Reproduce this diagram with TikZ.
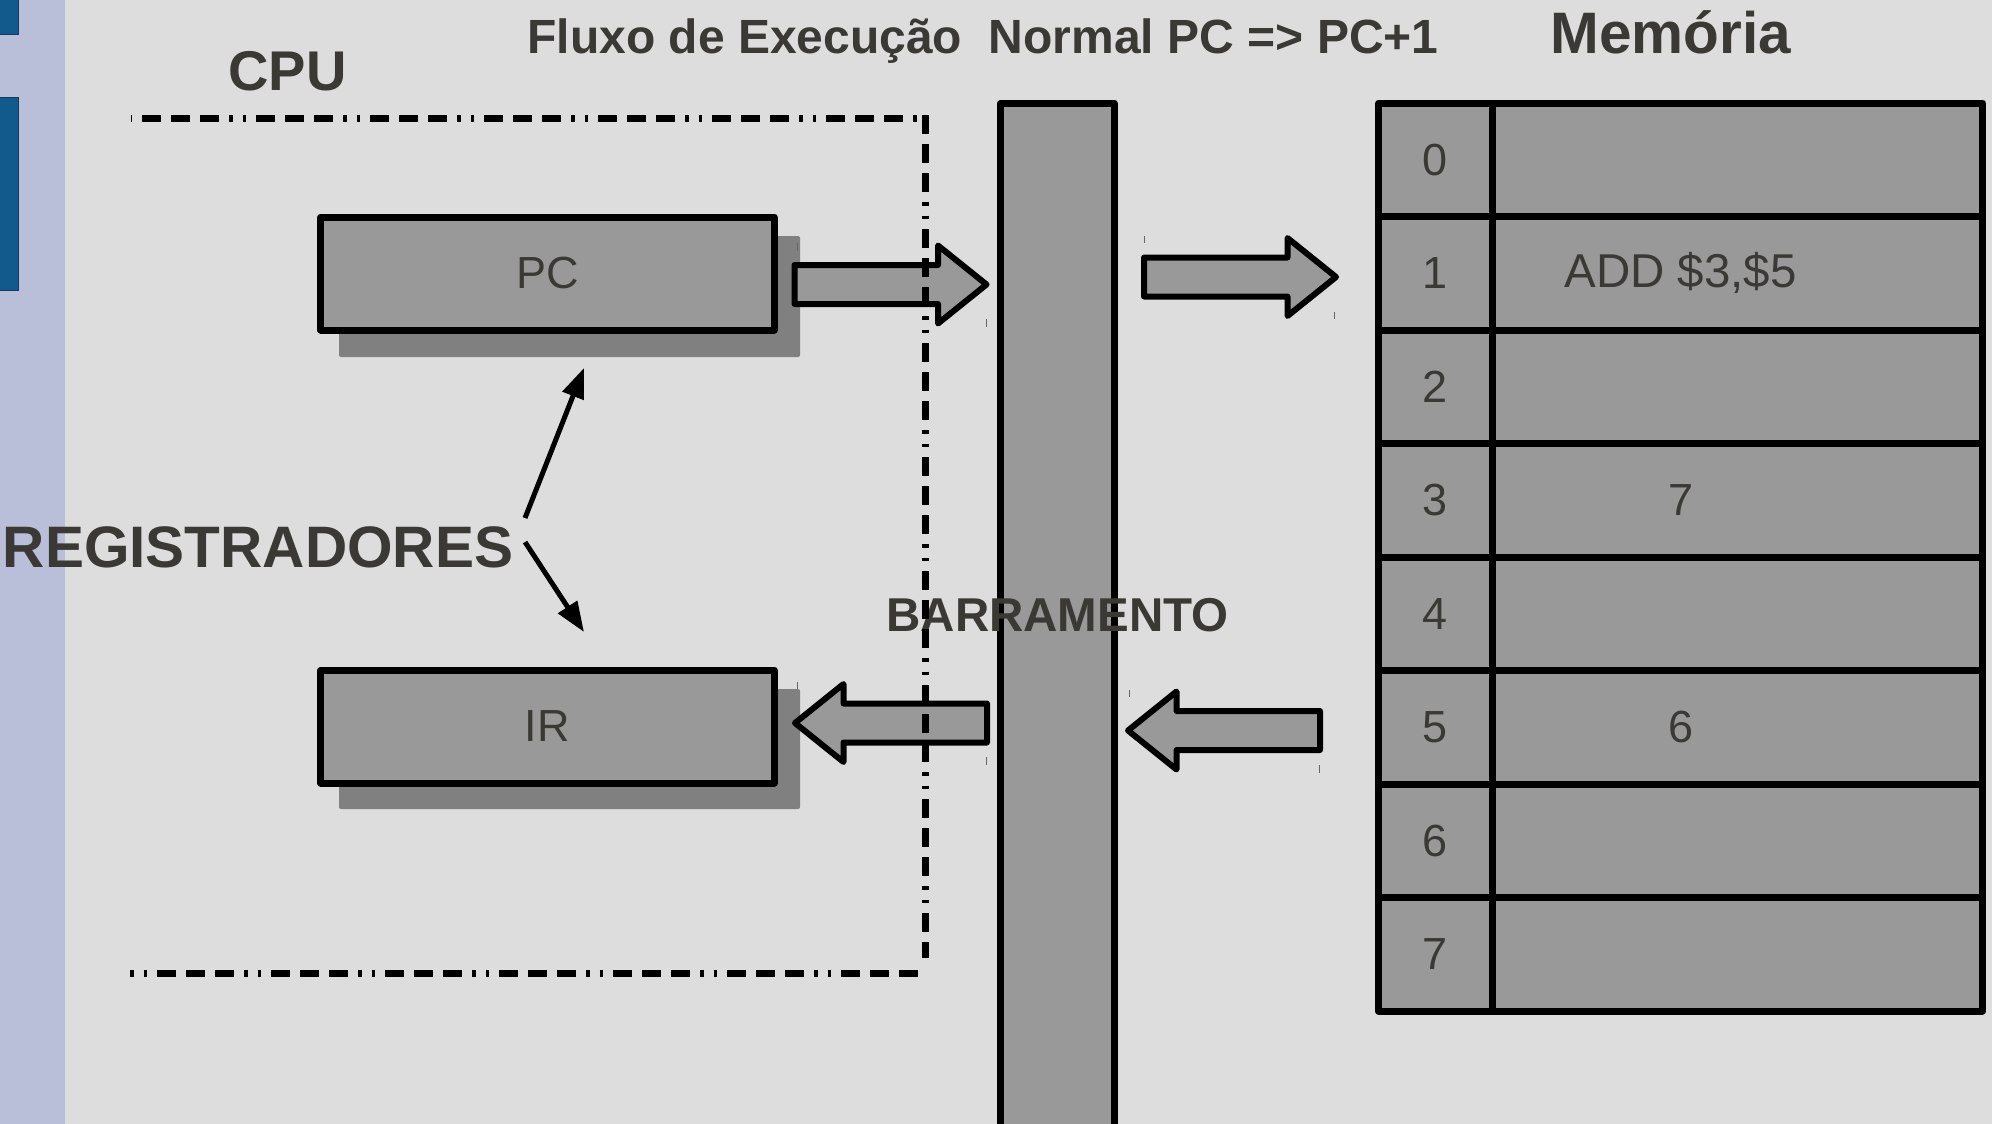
\documentclass[tikz,border=0pt]{standalone}
\usepackage{fontspec}
\setmainfont{Liberation Sans}
\usetikzlibrary{arrows.meta}

\definecolor{bgray}{RGB}{221,221,221}
\definecolor{boxgray}{RGB}{153,153,153}
\definecolor{shadegray}{RGB}{128,128,128}
\definecolor{ink}{RGB}{58,57,53}
\definecolor{sidebar}{RGB}{185,190,217}
\definecolor{slideblue}{RGB}{19,90,140}

\tikzset{
  heading/.style={text=ink, font=\bfseries\fontsize{58.5}{62}\selectfont, inner sep=0pt, anchor=base},
  plain/.style={text=ink, font=\fontsize{45}{50}\selectfont, inner sep=0pt},
  regbox/.style={draw=black, line width=7pt, fill=boxgray, line join=round,
    minimum width=453.4pt, minimum height=113pt, inner sep=0pt, text=ink,
    font=\fontsize{45}{50}\selectfont},
  addrcell/.style={draw=black, line width=7pt, fill=boxgray, line join=round,
    minimum width=113.4pt, minimum height=113.5pt, inner sep=0pt, text=ink,
    font=\fontsize{45}{50}\selectfont},
  valcell/.style={addrcell, minimum width=490.6pt},
  fatline/.style={draw=black, fill=boxgray, line width=6pt, line join=round},
  fatarrow/.pic={\draw[fatline] (0,-19.5) -- (143.5,-19.5) -- (143.5,-39) -- (192,0)
      -- (143.5,39) -- (143.5,19.5) -- (0,19.5) -- cycle;},
  tickmark/.style={draw=black!60, line width=1pt},
  thinarrow/.style={line width=5pt, -{Triangle[length=30pt,width=22pt]}},
  cpudash/.style={line width=7pt, dash pattern=on 19pt off 10pt on 19pt off 10pt
      on 19pt off 10pt on 3.5pt off 10pt on 3.5pt off 10pt}
}

\begin{document}
\begin{tikzpicture}[x=1pt,y=-1pt]
  \useasboundingbox (0,0) rectangle (1992,1124);
  \clip (0,0) rectangle (1992,1124);

  % slide background and left band
  \fill[bgray] (0,0) rectangle (1992,1124);
  \fill[sidebar] (0,0) rectangle (65,1124);
  \filldraw[fill=slideblue, draw=slideblue!70!black, line width=1pt] (-2,-2) rectangle (18,35);
  \filldraw[fill=slideblue, draw=slideblue!70!black, line width=1pt] (-2,97) rectangle (18,290);

  % headings
  \node[heading, font=\bfseries\fontsize{56}{60}\selectfont] (cpu) at (287.5,90) {CPU};
  \node[heading, font=\bfseries\fontsize{48}{52}\selectfont] (title) at (983,53.3)
    {Fluxo de Execução\ \ Normal PC => PC+1};
  \node[heading] (mem) at (1671,53.3) {Memória};

  % registers with their shadows
  \fill[shadegray, rounded corners=2pt] (339,236) rectangle (800,357);
  \fill[shadegray, rounded corners=2pt] (339,689) rectangle (800,809);
  \node[regbox] (pc) at (547.3,273.5) {PC};
  \node[regbox] (ir) at (547.3,726.5) {IR};

  % register label and its pointers
  \node[heading] (reg) at (258,567) {REGISTRADORES};
  \coordinate (up1) at (525,518);
  \coordinate (up2) at (584,368);
  \coordinate (dn1) at (525,542);
  \coordinate (dn2) at (584,632);
  \draw[thinarrow] (up1) -- (up2);
  \draw[thinarrow] (dn1) -- (dn2);

  % bus
  \node[draw=black, line width=7pt, fill=boxgray, line join=round, minimum width=113.5pt,
    minimum height=1040pt, inner sep=0pt, anchor=north] (bus) at (1057.25,99.5) {};

  % memory table
  \foreach \k in {0,...,7} {
    \node[addrcell] (a\k) at (1435.3,{159.75+113.5*\k}) {\k};
    \node[valcell] (v\k) at (1737.3,{159.75+113.5*\k}) {};
  }
  \node[plain, font=\fontsize{47.5}{52}\selectfont] (val1) at (1680.5,273.25) {ADD \$3,\$5};
  \node[plain] (val3) at (1681,500.25) {7};
  \node[plain] (val5) at (1681,727.25) {6};

  % data paths
  \pic at (794.5,284.5) {fatarrow};
  \pic at (1144,277) {fatarrow};
  \pic[rotate=180] at (987,723) {fatarrow};
  \pic[rotate=180] at (1320,730.5) {fatarrow};
  \draw[tickmark] (797,243) -- (797,251);
  \draw[tickmark] (986,319) -- (986,327);
  \draw[tickmark] (1144,236) -- (1144,243);
  \draw[tickmark] (1334,312) -- (1334,319);
  \draw[tickmark] (797,682) -- (797,689);
  \draw[tickmark] (986,757) -- (986,765);
  \draw[tickmark] (1129,690) -- (1129,697);
  \draw[tickmark] (1319,765) -- (1319,773);

  \node[heading, font=\bfseries\fontsize{47.5}{50}\selectfont] (barr) at (1057.5,631) {BARRAMENTO};

  % CPU boundary
  \draw[cpudash, dash phase=103pt] (131,118.5) -- (928.5,118.5);
  \draw[cpudash] (925,115) -- (925,958);
  \draw[cpudash, dash phase=87pt] (130,973) -- (926,973);
\end{tikzpicture}
\end{document}
